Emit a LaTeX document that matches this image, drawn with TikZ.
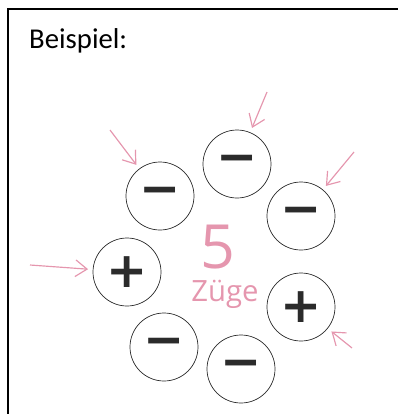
\documentclass[tikz,border=0pt]{standalone}
\usepackage{fontspec}
\usepackage{tikz}
\usetikzlibrary{arrows.meta,positioning}
\usepackage{xcolor}
\setmainfont{Carlito}
\newfontfamily\signfont{DejaVu Sans}
\newfontfamily\handfont{Open Sans}
\definecolor{ink}{HTML}{2B2B2B}
\definecolor{handpink}{HTML}{E596AE}
\definecolor{frame}{HTML}{000000}
\tikzset{
  stone/.style={circle,draw=ink,line width=0.6pt,minimum size=2.04cm,inner sep=0pt,
    font=\signfont\bfseries\fontsize{42}{42}\selectfont,text=ink},
  hand/.style={text=handpink,inner sep=0pt},
  push/.style={-{Straight Barb[length=3.5mm,width=5mm]},draw=handpink,line width=1pt,
    shorten >=4pt}
}
\begin{document}
\begin{tikzpicture}[x=0.03cm,y=-0.03cm]
      \useasboundingbox (0,0) rectangle (398,414);
      \draw[frame,line width=1.5pt] (398,9) -- (8,9) -- (8,414);
      \node[anchor=base west,inner sep=0pt,font=\fontsize{24.5}{24.5}\selectfont] (title) at (29,48) {Beispiel:};
      % Steine im Kreis
      \node[stone] (s1) at (160,196) {−};
      \node[stone] (s2) at (237,164) {−};
      \node[stone] (s3) at (301,216) {−};
      \node[stone] (s4) at (127,272) {+};
      \node[stone] (s5) at (301,307) {+};
      \node[stone] (s6) at (164,347) {−};
      \node[stone] (s7) at (241,369) {−};
      % Beschriftung in der Mitte
      \node[hand,font=\handfont\fontsize{52}{52}\selectfont] (zahl) at (218,247) {5};
      \node[hand,font=\handfont\fontsize{25}{25}\selectfont] (zuege) at (225,294) {Züge};
      % Pfeile
      \coordinate (p1) at (110,130);
      \coordinate (p2) at (267,92);
      \coordinate (p3) at (354,152);
      \coordinate (p4) at (30,265);
      \coordinate (p5) at (352,348);
      \draw[push] (p1) -- (s1);
      \draw[push] (p2) -- (s2);
      \draw[push] (p3) -- (s3);
      \draw[push] (p4) -- (s4);
      \draw[push] (p5) -- (s5);
\end{tikzpicture}
\end{document}
